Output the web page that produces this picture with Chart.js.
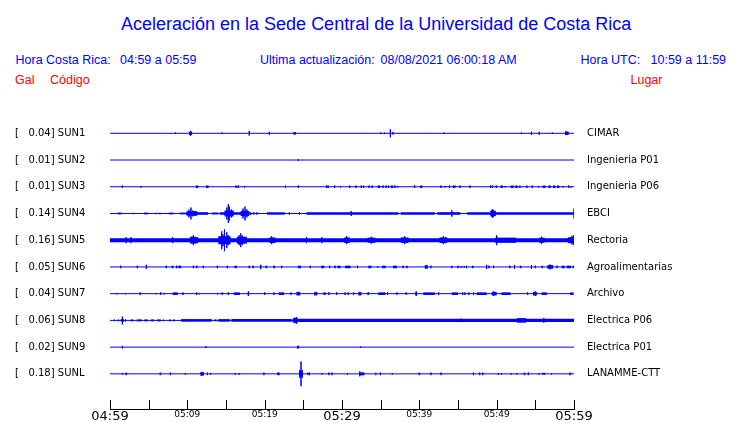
<!DOCTYPE html>
<html>
<head>
<meta charset="utf-8">
<script src="https://cdn.jsdelivr.net/npm/chart.js@4.4.0/dist/chart.umd.min.js"></script>
<style>
    html, body { margin: 0; padding: 0; background: #fff; }
    body { width: 740px; height: 423px; position: relative; overflow: hidden; font-family: 'Liberation Sans', Arial, sans-serif; }
    .t { position: absolute; white-space: pre; line-height: 1; }
    #title { left: 121px; top: 15px; font-size: 18px; color: #00f; }
    .blue { color: #00f; font-size: 12.5px; top: 54.4px; }
    .red { color: #f00; font-size: 12.5px; top: 73.7px; }
    #wrap { position: absolute; left: 0; top: 100px; width: 740px; height: 323px; }
</style>
</head>
<body>
<div class="t" id="title">Aceleración en la Sede Central de la Universidad de Costa Rica</div>
<div class="t blue" style="left:15.5px">Hora Costa Rica:</div>
<div class="t blue" style="left:120px">04:59 a 05:59</div>
<div class="t blue" style="left:260px">Ultima actualización:</div>
<div class="t blue" style="left:380.5px">08/08/2021 06:00:18 AM</div>
<div class="t blue" style="left:580.5px">Hora UTC:</div>
<div class="t blue" style="left:650.5px">10:59 a 11:59</div>
<div class="t red" style="left:15px">Gal</div>
<div class="t red" style="left:50px">Código</div>
<div class="t red" style="left:630.5px">Lugar</div>
<div id="wrap"><canvas id="chart"></canvas></div>

<script>
    // minutes after 04:59 (0..60)
    const tickLabels = ['04:59', '', '05:09', '', '05:19', '', '05:29', '', '05:39', '', '05:49', '', '05:59'];

    const codes = ['SUN1', 'SUN2', 'SUN3', 'SUN4', 'SUN5', 'SUN6', 'SUN7', 'SUN8', 'SUN9', 'SUNL'];
    const peaks = [0.04, 0.01, 0.01, 0.14, 0.16, 0.05, 0.04, 0.06, 0.02, 0.18];
    const places = ['CIMAR', 'Ingenieria P01', 'Ingenieria P06', 'EBCI', 'Rectoria',
        'Agroalimentarias', 'Archivo', 'Electrica P06', 'Electrica P01', 'LANAMME-CTT'];

    // spikes: [minute, half amplitude]; bands (sustained shaking): [from, to, half amplitude]
    const sun1Spikes = [[8.45, 0.8], [10.3, 1.5], [10.43, 2.5], [10.55, 1.5], [14.5, 0.8], [18.0, 2.3], [20.6, 1.5],
        [23.8, 1.2], [23.95, 1.2], [35.0, 0.8], [35.5, 0.8], [36.25, 4], [36.6, 1.3], [43.2, 0.8], [53.2, 0.8],
        [54.5, 1.7], [55.5, 1.5], [57.2, 0.8], [58.9, 1.8], [59.05, 1.8], [59.2, 1.5]];
    const sun1Bands = [[23.8, 24.0, 1.0], [58.85, 59.3, 1.5]];

    const sun2Spikes = [[24.35, 0.8]];
    const sun2Bands = [];

    const sun3Spikes = [[1.6, 1.3], [4.0, 0.8], [16.3, 1.3], [16.6, 1.3], [17.4, 0.8], [22.7, 1.3], [24.35, 1.3],
        [28.0, 1.3], [28.2, 1.3], [29.05, 1.3], [29.8, 0.8], [31.0, 1.3], [31.8, 1.3], [32.5, 1.3], [32.8, 1.3],
        [35.3, 1.3], [35.7, 1.3], [36.0, 1.3], [36.85, 1.3], [37.2, 0.8], [39.4, 1.3], [42.8, 1.3], [43.3, 0.8],
        [43.9, 1.3], [44.4, 1.3], [44.6, 1.3], [45.25, 1.3], [46.55, 1.3], [49.2, 1.3], [49.45, 1.3], [49.95, 1.3],
        [51.1, 0.8], [54.6, 1.3], [55.4, 0.8], [58.6, 0.8], [59.3, 1.3], [59.6, 0.8]];
    const sun3Bands = [[11.1, 11.4, 1.3], [12.4, 12.75, 1.3], [33.4, 33.6, 1.3], [33.8, 34.0, 1.3], [34.6, 34.95, 1.3],
        [36.3, 36.6, 1.3], [40.1, 40.4, 1.3], [50.5, 50.8, 1.3], [51.8, 52.2, 1.3], [52.4, 52.7, 1.3],
        [52.9, 53.1, 1.3], [53.8, 54.0, 1.3], [55.95, 56.3, 1.3], [56.7, 57.0, 1.3], [57.3, 57.6, 1.3], [57.8, 58.1, 1.3]];

    const sun4Spikes = [[10.2, 4], [10.47, 6], [10.7, 3], [11.0, 2.5], [15.1, 6], [15.3, 9.5], [15.45, 7], [15.7, 4],
        [17.2, 5], [17.46, 7], [17.7, 4], [18.6, 1.2], [19.0, 1.2], [23.2, 1.2], [24.5, 1.2], [31.2, 2.5],
        [44.2, 3.2], [49.3, 3], [49.44, 4.5], [49.6, 3.5], [60.0, 5]];
    const sun4Bands = [[1.0, 1.5, 0.9], [2.9, 3.1, 0.7], [4.4, 4.9, 0.9], [5.8, 6.1, 0.7], [6.3, 6.6, 0.7],
        [7.6, 8.2, 0.9], [9.0, 9.7, 0.9], [9.8, 12.7, 1.3], [9.9, 11.3, 2.2], [13.2, 14.0, 1.0], [14.2, 18.3, 1.3],
        [14.8, 16.0, 3.0], [16.9, 18.0, 2.6], [20.3, 22.6, 1.2], [25.4, 37.3, 1.3], [37.6, 42.0, 1.2],
        [42.3, 45.3, 1.3], [46.2, 60, 1.3], [49.2, 49.9, 2.6]];

    const sun5Spikes = [[2.1, 3], [2.7, 3], [8.1, 3], [10.6, 4], [10.8, 5], [11.0, 3.5], [14.45, 9], [14.6, 6],
        [14.8, 11], [15.1, 8], [15.3, 5], [16.7, 5], [16.9, 7], [17.1, 5], [20.9, 4], [25.4, 3], [27.4, 3],
        [30.6, 4], [33.8, 3.5], [38.1, 4], [43.1, 4], [43.4, 3], [50.0, 5], [55.8, 3.5], [59.7, 4], [59.9, 5]];
    const sun5Bands = [[0, 60, 2.0], [10.3, 11.4, 3], [14.0, 15.6, 4], [16.4, 17.7, 3.5], [20.6, 21.4, 2.8],
        [30.3, 31.0, 2.8], [33.3, 34.3, 2.6], [37.6, 38.6, 2.8], [42.6, 43.6, 2.8], [49.8, 52.5, 2.6],
        [55.5, 56.2, 2.6], [59.2, 60, 3.0]];

    const sun6Spikes = [[1.38, 1.3], [3.53, 1.3], [4.7, 2.2], [7.28, 1.3], [8.62, 1.3], [10.78, 1.3], [12.07, 1.3],
        [13.88, 1.3], [15.17, 1.3], [18.0, 1.3], [18.5, 1.3], [19.5, 2.2], [20.2, 1.3], [22.2, 1.3], [25.9, 1.3],
        [28.4, 1.3], [29.1, 1.3], [32.0, 1.3], [34.6, 0.8], [37.9, 1.3], [41.5, 1.3], [45.0, 1.3], [45.4, 0.8],
        [45.8, 0.8], [46.1, 1.3], [48.7, 2.2], [49.0, 1.3], [49.6, 1.3], [51.7, 1.3], [52.3, 2.0], [54.5, 2.0],
        [55.0, 1.3], [56.9, 2.5], [57.8, 1.3], [59.9, 1.3]];
    const sun6Bands = [[7.97, 8.19, 1.3], [8.84, 9.18, 1.3], [11.1, 11.3, 1.3], [16.1, 16.4, 1.3], [21.1, 21.35, 1.3],
        [24.3, 24.7, 1.3], [27.3, 27.7, 1.3], [29.4, 29.8, 1.3], [30.4, 31.1, 1.3], [33.4, 33.8, 1.3],
        [35.2, 35.65, 1.3], [36.6, 37.1, 1.3], [38.3, 38.5, 1.3], [40.7, 41.1, 1.8], [44.1, 44.3, 1.3],
        [46.8, 47.0, 1.3], [53.0, 53.2, 1.3], [55.8, 56.0, 1.3], [56.55, 57.3, 1.8], [58.4, 58.8, 1.3], [59.05, 59.6, 1.3]];

    const sun7Spikes = [[0.86, 0.7], [2.0, 0.7], [3.9, 1.3], [6.0, 0.7], [6.55, 1.3], [7.0, 0.7], [9.44, 1.3],
        [11.2, 1.3], [11.55, 0.7], [13.9, 0.7], [14.5, 1.3], [15.3, 1.3], [17.9, 2.2], [20.0, 1.3], [21.2, 1.3],
        [23.4, 1.3], [29.3, 1.3], [30.4, 1.3], [30.8, 1.3], [31.5, 1.3], [33.4, 1.3], [35.9, 1.3], [37.1, 1.3],
        [38.3, 1.3], [39.6, 2.2], [42.5, 1.3], [45.6, 1.3], [45.9, 1.3], [46.4, 1.3], [47.0, 1.3], [49.6, 2.2],
        [54.0, 1.3], [55.0, 2.2]];
    const sun7Bands = [[8.1, 8.75, 1.3], [16.0, 16.8, 1.3], [17.8, 18.0, 1.8], [21.8, 22.5, 1.3], [24.1, 24.6, 1.8],
        [26.4, 26.8, 1.8], [27.6, 27.9, 1.3], [28.2, 28.4, 1.3], [32.1, 32.5, 1.8], [33.3, 33.5, 1.3],
        [34.7, 35.6, 1.3], [39.5, 39.7, 1.8], [40.5, 42.0, 1.3], [44.2, 45.0, 1.3], [47.4, 48.7, 1.3],
        [49.35, 50.0, 1.8], [50.6, 51.8, 1.3], [54.7, 55.2, 1.8], [55.8, 56.5, 1.3], [59.5, 59.9, 1.3]];

    const sun8Spikes = [[0.56, 0.8], [1.08, 0.8], [1.6, 4], [2.0, 1.2], [6.9, 0.8], [7.76, 1.0], [8.3, 1.0],
        [23.9, 2.8], [24.1, 3.5], [28.0, 1.2], [31.7, 1.2], [45.4, 1.8], [47.1, 1.2], [48.5, 1.2], [50.2, 1.2],
        [52.8, 2.0], [53.2, 2.0], [53.7, 1.8], [56.1, 2.5]];
    const sun8Bands = [[1.4, 1.8, 1.3], [2.7, 3.0, 1.0], [3.45, 4.1, 1.0], [4.44, 4.87, 1.0], [5.3, 5.7, 1.0],
        [6.1, 6.55, 1.0], [9.2, 13.15, 1.3], [13.5, 13.8, 1.0], [14.0, 15.5, 1.3], [15.7, 23.5, 1.3],
        [23.6, 24.35, 2.2], [24.35, 60, 1.7], [52.6, 53.8, 2.2]];

    const sun9Spikes = [[1.6, 1.3], [12.4, 1.0], [24.3, 1.3], [32.4, 0.7]];
    const sun9Bands = [[24.2, 24.45, 1.3]];

    const sunlSpikes = [[1.6, 0.7], [6.5, 1.3], [7.8, 1.3], [9.74, 0.7], [11.77, 1.7], [11.9, 2], [12.07, 1.5],
        [12.6, 1.3], [13.0, 1.0], [16.2, 0.8], [16.7, 0.8], [19.9, 1.3], [21.7, 1.3], [21.85, 1.3], [24.55, 4],
        [24.7, 12.5], [24.85, 4], [25.6, 1.3], [25.8, 1.3], [27.4, 0.8], [28.3, 1.3], [28.7, 1.3], [30.7, 0.8],
        [32.3, 2.5], [34.96, 1.3], [36.5, 0.8], [41.5, 1.3], [42.8, 1.3], [47.0, 1.3], [47.8, 1.3], [48.2, 1.3],
        [50.2, 0.8], [50.6, 0.8], [51.85, 0.8], [52.6, 0.8], [54.1, 1.3], [55.5, 0.8], [56.2, 1.0], [57.1, 0.8]];
    const sunlBands = [[2.0, 2.2, 1.3], [11.8, 12.0, 1.5], [24.45, 24.95, 2.5], [32.2, 32.9, 1.5], [34.3, 34.45, 1.3],
        [39.9, 40.1, 1.3], [53.5, 53.7, 1.3], [55.9, 56.1, 1.0], [59.4, 59.6, 1.3]];

    const traceSpikes = [sun1Spikes, sun2Spikes, sun3Spikes, sun4Spikes, sun5Spikes,
        sun6Spikes, sun7Spikes, sun8Spikes, sun9Spikes, sunlSpikes];
    const traceBands = [sun1Bands, sun2Bands, sun3Bands, sun4Bands, sun5Bands,
        sun6Bands, sun7Bands, sun8Bands, sun9Bands, sunlBands];

    const BLUE = '#0000ff';
    const Y_MAX = 299;
    const baselineOf = i => 278.5 - 27 * i;
    const baselines = codes.map((c, i) => baselineOf(i));

    function spikeData(spikes, base) {
        const pts = [{ x: 0, y: base }];
        spikes.forEach(([t, a]) => {
            pts.push({ x: t, y: base }, { x: t, y: base + a }, { x: t, y: base - a }, { x: t, y: base });
        });
        pts.push({ x: 60, y: base });
        return pts;
    }

    function bandData(bands, base) {
        const pts = [];
        bands.forEach(([t0, t1, h]) => {
            pts.push({ x: t0, y: base, w: 2 * h }, { x: t1, y: base, w: 2 * h }, { x: t1, y: null });
        });
        return pts;
    }

    const datasets = [];
    codes.forEach((code, i) => {
        const base = baselines[i];
        const bands = bandData(traceBands[i], base);
        datasets.push({
            label: code + ' bands',
            data: bands,
            borderColor: BLUE,
            borderWidth: 2.6,
            borderCapStyle: 'butt',
            spanGaps: false,
            pointRadius: 0,
            segment: { borderWidth: ctx => (bands[ctx.p0DataIndex] && bands[ctx.p0DataIndex].w) || 2.6 }
        });
        datasets.push({
            label: code,
            data: spikeData(traceSpikes[i], base),
            borderColor: BLUE,
            borderWidth: 1,
            borderJoinStyle: 'bevel',
            pointRadius: 0
        });
    });

    const tickMarks = {
        id: 'tickMarks',
        afterDraw(chart) {
            const { ctx, chartArea, scales: { x } } = chart;
            ctx.save();
            ctx.strokeStyle = '#000';
            ctx.lineWidth = 1;
            ctx.beginPath();
            x.ticks.forEach(t => {
                const px = Math.round(x.getPixelForValue(t.value)) + 0.5;
                ctx.moveTo(px, chartArea.bottom);
                ctx.lineTo(px, chartArea.bottom - 9);
            });
            ctx.stroke();
            ctx.restore();
        }
    };

    // lineHeight 0 keeps the side labels from adding padding above/below the plot
    const labelFont = { family: "'DejaVu Sans', sans-serif", size: 10, lineHeight: 0 };

    new Chart(document.getElementById('chart'), {
        type: 'line',
        data: { datasets },
        options: {
            responsive: true,
            maintainAspectRatio: false,
            animation: false,
            events: [],
            layout: { autoPadding: false, padding: { left: 15, right: 0, top: 10, bottom: 0 } },
            plugins: { legend: { display: false }, tooltip: { enabled: false } },
            scales: {
                x: {
                    type: 'linear',
                    min: 0,
                    max: 60,
                    grid: { display: false, drawTicks: false },
                    border: { display: true, color: '#000', width: 1 },
                    afterFit: s => { s.height = 14; },
                    ticks: {
                        stepSize: 5,
                        autoSkip: false,
                        maxRotation: 0,
                        padding: 0,
                        color: '#000',
                        callback: (v, i) => tickLabels[i],
                        font: ctx => ({ family: "'DejaVu Sans', sans-serif", size: ctx.index % 6 === 0 ? 13 : 9 })
                    }
                },
                y: {
                    type: 'linear',
                    position: 'left',
                    min: 0,
                    max: Y_MAX,
                    grid: { display: false, drawTicks: false },
                    border: { display: false },
                    afterBuildTicks: s => { s.ticks = baselines.map(v => ({ value: v })); },
                    afterFit: s => { s.width = 95; },
                    ticks: {
                        autoSkip: false,
                        crossAlign: 'far',
                        padding: 0,
                        color: '#000',
                        font: labelFont,
                        callback: (v, i) => '[   ' + peaks[i].toFixed(2) + '] ' + codes[i]
                    }
                },
                y2: {
                    type: 'linear',
                    position: 'right',
                    min: 0,
                    max: Y_MAX,
                    grid: { display: false, drawTicks: false },
                    border: { display: false },
                    afterBuildTicks: s => { s.ticks = baselines.map(v => ({ value: v })); },
                    afterFit: s => { s.width = 166; },
                    ticks: {
                        autoSkip: false,
                        padding: 13,
                        color: '#000',
                        font: labelFont,
                        callback: (v, i) => places[i]
                    }
                }
            }
        },
        plugins: [tickMarks]
    });
</script>
</body>
</html>
